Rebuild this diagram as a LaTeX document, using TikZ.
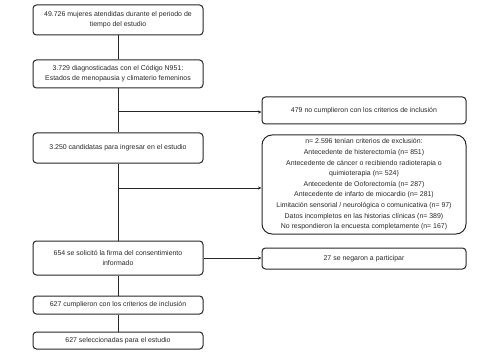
\documentclass[tikz,border=0pt]{standalone}
\usepackage{fontspec}
\setmainfont{Liberation Sans}
\usetikzlibrary{arrows.meta}
\begin{document}
\begin{tikzpicture}[x=1pt,y=-1pt,
  box/.style={draw=black!85,line width=1pt,rounded corners=3.5pt,align=center,
    font=\fontsize{6.95}{10}\selectfont,inner sep=0pt,text=black!85},
  lbox/.style={box,minimum width=170pt},
  rbox/.style={box,minimum width=204pt},
  ln/.style={draw=black!85,line width=1pt},
  arr/.style={ln,-{Stealth[length=3.5pt,width=3pt]}}]
\useasboundingbox (0,0) rectangle (488,361);
\node[lbox,minimum height=30pt] (b1) at (118,20) {49.726 mujeres atendidas durante el periodo de\\tiempo del estudio};
\node[lbox,minimum height=28pt] (b2) at (118,74) {3.729 diagnosticadas con el Código N951:\\Estados de menopausia y climaterio femeninos};
\node[lbox,minimum height=30pt] (b3) at (118,148) {3.250 candidatas para ingresar en el estudio};
\node[lbox,minimum height=34pt] (b4) at (118,258) {654 se solicitó la firma del consentimiento\\informado};
\node[lbox,minimum height=18pt] (b5) at (118,305) {627 cumplieron con los criterios de inclusión};
\node[lbox,minimum height=17pt] (b6) at (118,340.5) {627 seleccionadas para el estudio};
\node[rbox,minimum height=27pt] (r1) at (364,110.5) {479 no cumplieron con los criterios de inclusión};
\node[rbox,minimum height=99pt,rounded corners=10pt,font=\fontsize{6.95}{10.6}\selectfont] (r2) at (364,184.5) {n= 2.596 tenían criterios de exclusión:\\Antecedente de histerectomía (n= 851)\\Antecedente de cáncer o recibiendo radioterapia o\\quimioterapia (n= 524)\\Antecedente de Ooforectomía (n= 287)\\Antecedente de infarto de miocardio (n= 281)\\Limitación sensorial / neurológica o comunicativa (n= 97)\\Datos incompletos en las historias clínicas (n= 389)\\No respondieron la encuesta completamente (n= 167)};
\node[rbox,minimum height=21pt] (r3) at (364,258.5) {27 se negaron a participar};
\coordinate (j1) at (118,112);
\coordinate (j2) at (118,188);
\draw[ln] (b1) -- (b2);
\draw[ln] (b2) -- (b3);
\draw[ln] (b3) -- (b4);
\draw[ln] (b4) -- (b5);
\draw[ln] (b5) -- (b6);
\draw[arr] (j1) -- (j1 -| r1.west);
\draw[arr] (j2) -- (j2 -| r2.west);
\draw[arr] (b4.east) -- (b4.east -| r3.west);
\end{tikzpicture}
\end{document}
